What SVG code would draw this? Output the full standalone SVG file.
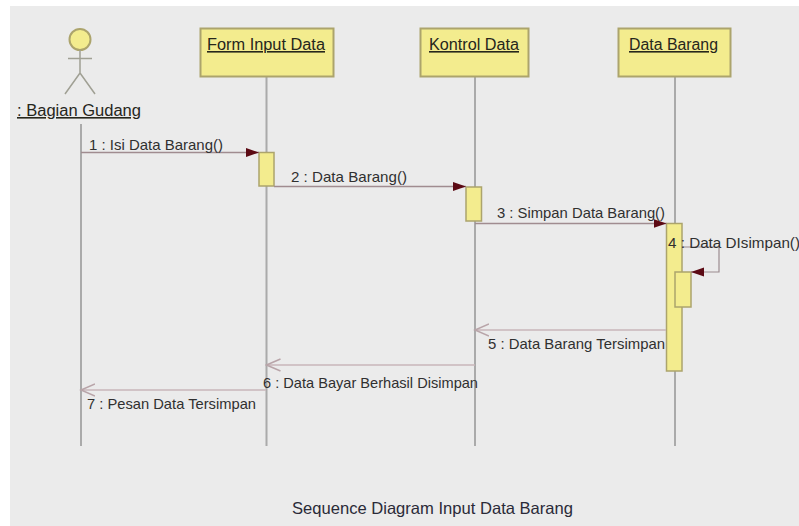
<svg xmlns="http://www.w3.org/2000/svg" width="799" height="526" viewBox="0 0 799 526">
<style>
.t{font-family:"Liberation Sans",Arial,sans-serif;font-size:15px;fill:#303030}
.h{font-family:"Liberation Sans",Arial,sans-serif;font-size:16px;fill:#26261c;text-decoration:underline}
.box{fill:#f3ec8e;stroke:#aca46c;stroke-width:2}
.act{fill:#f3ec8e;stroke:#aca46c;stroke-width:1.500}
.life{stroke:#aaaaaa;stroke-width:2;fill:none}
.call{stroke:#a08c90;stroke-width:1.500;fill:none}
.self{stroke:#9c8c90;stroke-width:1.200;fill:none}
.ret{stroke:#c8b6ba;stroke-width:1.500;fill:none}
.fig{stroke:#a0a094;stroke-width:1.500;fill:none}
</style>
<defs>
<marker id="solid" markerUnits="userSpaceOnUse" markerWidth="14" markerHeight="10" refX="13" refY="5" orient="auto"><path d="M0 .5L13 5L0 9.500Z" fill="#5c0a14"/></marker>
<marker id="open" markerUnits="userSpaceOnUse" markerWidth="16" markerHeight="14" refX="14" refY="7" orient="auto"><path d="M0 1L14 7L0 13" fill="none" stroke="#b8a4a8" stroke-width="1.500"/></marker>
</defs>
<rect width="799" height="526" fill="#ffffff"/>
<rect x="10" y="6" width="789" height="520" fill="#ebebeb"/>
<g id="lifelines">
<path class="life" d="M81 124V446"/>
<path class="life" d="M266.500 76V446"/>
<path class="life" d="M475 76V446"/>
<path class="life" d="M675 76V446"/>
</g>
<g id="actor-bagian-gudang">
<circle cx="80" cy="39.500" r="10.500" fill="#f3ec8e" stroke="#aca46c" stroke-width="2"/>
<path class="fig" d="M80 50V73M68 58.500H92M80 73L65 94M80 73L95 94"/>
<text class="h" x="17" y="116" textLength="124" lengthAdjust="spacingAndGlyphs">: Bagian Gudang</text>
</g>
<g id="node-form-input-data">
<rect class="box" x="200.500" y="28.500" width="133" height="48"/>
<text class="h" x="207" y="50" textLength="118" lengthAdjust="spacingAndGlyphs">Form Input Data</text>
<rect class="act" x="259" y="152.500" width="15" height="33.500"/>
</g>
<g id="node-kontrol-data">
<rect class="box" x="420.500" y="28.500" width="108" height="48"/>
<text class="h" x="429" y="50" textLength="90" lengthAdjust="spacingAndGlyphs">Kontrol Data</text>
<rect class="act" x="466" y="187" width="15.500" height="34"/>
</g>
<g id="node-data-barang">
<rect class="box" x="618.500" y="28.500" width="112" height="48"/>
<text class="h" x="629" y="50" textLength="89" lengthAdjust="spacingAndGlyphs">Data Barang</text>
<rect class="act" x="666.500" y="223.500" width="15.500" height="147.500"/>
<rect class="act" x="675" y="272" width="16" height="35"/>
</g>
<g id="connectors">
<path class="call" d="M81 152.500H259" marker-end="url(#solid)"/>
<path class="call" d="M274 186.500H466" marker-end="url(#solid)"/>
<path class="call" d="M475 223.500H666.500" marker-end="url(#solid)"/>
<path class="self" d="M682 247H719V272H691" marker-end="url(#solid)"/>
<path class="ret" d="M666 330H475" marker-end="url(#open)"/>
<path class="ret" d="M475 365H266.500" marker-end="url(#open)"/>
<path class="ret" d="M266 390H81" marker-end="url(#open)"/>
</g>
<g id="labels">
<text class="t" x="89" y="149.500" textLength="134" lengthAdjust="spacingAndGlyphs">1 : Isi Data Barang()</text>
<text class="t" x="291" y="181.500" textLength="116" lengthAdjust="spacingAndGlyphs">2 : Data Barang()</text>
<text class="t" x="497" y="218" textLength="168" lengthAdjust="spacingAndGlyphs">3 : Simpan Data Barang()</text>
<text class="t" x="668" y="248" textLength="132" lengthAdjust="spacingAndGlyphs">4 : Data DIsimpan()</text>
<text class="t" x="488" y="349" textLength="177" lengthAdjust="spacingAndGlyphs">5 : Data Barang Tersimpan</text>
<text class="t" x="263" y="388" textLength="215" lengthAdjust="spacingAndGlyphs">6 : Data Bayar Berhasil Disimpan</text>
<text class="t" x="87" y="409" textLength="169" lengthAdjust="spacingAndGlyphs">7 : Pesan Data Tersimpan</text>
<text x="292" y="514" textLength="281" lengthAdjust="spacingAndGlyphs" font-family="'Liberation Sans',sans-serif" font-size="16.500" fill="#2a2a38">Sequence Diagram Input Data Barang</text>
</g>
</svg>
